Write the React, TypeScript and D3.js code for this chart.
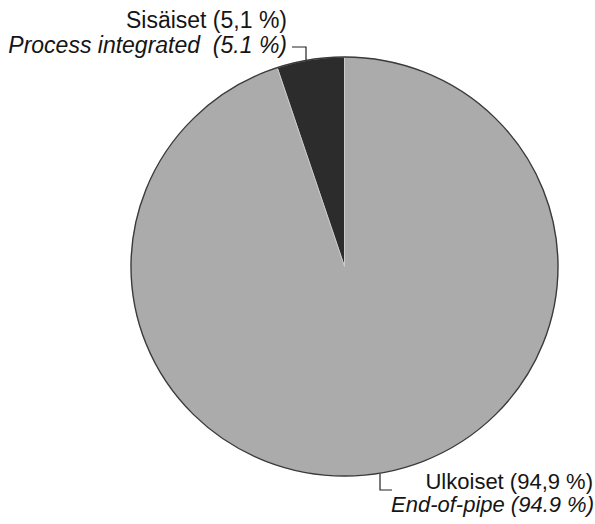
import React from "react";
import * as d3 from "d3";

const categories = ["Sisäiset", "Ulkoiset"];
const categoriesEn = ["Process integrated", "End-of-pipe"];
const values = [5.1, 94.9];
const labelsFi = ["Sisäiset (5,1 %)", "Ulkoiset (94,9 %)"];
const labelsEn = ["Process integrated\u00a0\u00a0(5.1 %)", "End-of-pipe (94.9 %)"];
const colors = ["#2c2c2c", "#ababab"];

const W = 595;
const H = 524;
const cx = 344.5;
const cy = 266.5;
const R = 213.5;
const yScale = 209.5 / 213.5;

export default function App() {
  const total = d3.sum(values);
  const start = -2 * Math.PI * (values[0] / total);
  const pie = d3
    .pie<number>()
    .sort(null)
    .startAngle(start)
    .endAngle(start + 2 * Math.PI);
  const arcs = pie(values);
  const arc = d3.arc<d3.PieArcDatum<number>>().innerRadius(0).outerRadius(R);

  const font = "'Liberation Sans', Arial, Helvetica, sans-serif";

  return (
    <svg
      width={W}
      height={H}
      style={{ position: "absolute", left: 0, top: 0, background: "#fff" }}
    >
      <g transform={`translate(${cx},${cy}) scale(1,${yScale})`}>
        {arcs.map((a, i) => (
          <path
            key={categories[i]}
            d={arc(a) || ""}
            fill={colors[i]}
            stroke="#cfcfcf"
            strokeWidth={0.8}
          />
        ))}
        <circle r={R} fill="none" stroke="#3a3a3a" strokeWidth={1.4} />
      </g>

      {/* top label */}
      <g fontFamily={font} fontSize={23} fill="#151515" textAnchor="end">
        <text x={287} y={28}>{labelsFi[0]}</text>
        <text x={287} y={53} fontStyle="italic">{labelsEn[0]}</text>
      </g>
      <path d="M292,47 H306 V60" fill="none" stroke="#222" strokeWidth={1.2} />

      {/* bottom label */}
      <g fontFamily={font} fontSize={22} fill="#151515" textAnchor="end">
        <text x={593} y={489}>{labelsFi[1]}</text>
        <text x={594} y={512} fontStyle="italic">{labelsEn[1]}</text>
      </g>
      <path d="M380,474 V490 H392" fill="none" stroke="#222" strokeWidth={1.2} />
    </svg>
  );
}
